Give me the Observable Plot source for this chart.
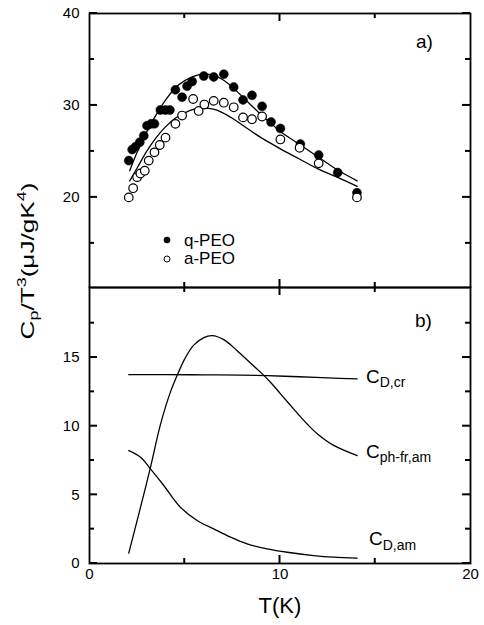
<!DOCTYPE html>
<html><head><meta charset="utf-8">
<script src="https://cdn.jsdelivr.net/npm/d3@7"></script>
<script src="https://cdn.jsdelivr.net/npm/@observablehq/plot@0.6"></script>
<style>
body{margin:0;background:#fff;}
#wrap{position:relative;width:484px;height:625px;font-family:"Liberation Sans",Arial,sans-serif;}
#wrap svg{position:absolute;left:0;overflow:visible;}
</style></head><body><div id="wrap"></div>
<script>
// Panel a) data: Cp/T^3 (µJ/gK^4) vs T (K)
const qT = [2.06,2.24,2.41,2.64,2.85,3.02,3.23,3.41,3.72,3.99,4.22,4.51,4.86,5.12,5.39,6.00,6.52,7.05,7.57,8.06,8.53,9.06,9.53,10.02,11.07,12.03,13.03,14.04];
const qC = [24.0,25.2,25.5,26.0,26.7,27.8,28.0,28.0,29.5,29.5,29.5,31.7,30.9,32.1,32.6,33.2,33.1,33.4,32.0,30.6,31.1,29.9,28.2,27.5,25.8,24.6,22.7,20.5];
const aT = [2.06,2.29,2.50,2.67,2.90,3.11,3.41,3.69,3.99,4.51,4.86,5.44,5.73,6.03,6.52,7.05,7.57,8.06,8.53,9.06,10.02,11.03,12.03,14.04];
const aC = [20.0,21.0,22.2,22.6,22.9,24.0,24.9,25.7,26.5,28.0,28.9,30.7,29.4,30.1,30.5,30.3,29.8,28.7,28.5,28.8,26.3,25.4,23.7,20.0];
const fitT = [2.11,2.5,3.0,3.5,4.0,4.5,5.0,5.5,6.0,6.5,7.0,7.5,8.0,8.5,9.0,9.5,10.0,11.0,12.0,13.0,14.05];
const fitQ = [22.9,24.9,27.1,29.0,30.6,31.9,32.7,33.2,33.4,33.3,32.8,32.0,31.0,30.0,29.0,28.1,27.2,25.8,24.4,23.0,21.8];
const fitA = [21.8,23.2,25.0,26.5,27.7,28.6,29.2,29.6,29.7,29.6,29.2,28.6,27.9,27.2,26.5,25.9,25.3,24.2,23.1,22.2,21.2];
// Panel b) components
const cdcrT = [2.06,4,6,8,9.33,11,12.5,14.05];
const cdcrC = [13.75,13.75,13.74,13.72,13.68,13.6,13.52,13.44];
const cphT = [2.06,2.68,3.2,3.72,4.25,4.57,5.0,5.47,6.0,6.44,7.05,7.75,8.45,9.0,9.5,10.0,10.5,11.0,11.5,12.0,12.82,14.05];
const cphC = [0.75,4.1,7.0,10.1,12.5,13.6,14.9,15.9,16.45,16.6,16.3,15.5,14.6,13.9,13.2,12.4,11.6,10.8,10.05,9.4,8.6,7.86];
const cdamT = [2.06,2.68,3.2,3.9,4.77,5.65,6.52,7.4,8.27,9.33,10.38,11.77,12.82,14.05];
const cdamC = [8.22,7.74,6.89,5.68,4.10,3.13,2.52,1.92,1.43,1.07,0.82,0.58,0.46,0.39];
// ticks
const xMajor = [10], xMinor = [5,15], xLabels = [0,10,20];
const yAMajor = [20,30,40], yAMinor = [15,25,35];
const yBMajor = [0,5,10,15], yBMinor = [2.5,7.5,12.5,17.5];

const font = "Liberation Sans, Arial, sans-serif";
const W = 484, ML = 89, MR = 14;
const pts = (T, C) => T.map((t,i) => ({T: t, C: C[i]}));
const common = {width: W, marginLeft: ML, marginRight: MR,
  style: {fontFamily: font, fontSize: "15px", color: "black", background: "transparent", overflow: "visible"}};
const lineOpts = {x: "T", y: "C", curve: "catmull-rom", stroke: "black", strokeWidth: 1.3};

// Inward ticks as small Plot rect marks: position from the tick arrays, size in pixels via insets
function tickRects(FW, FH, xMaj, xMin, yMaj, yMin) {
  const m = [];
  const hw = 1; // half width of a tick in px
  for (const [t, L] of [[xMaj, 8], [xMin, 5]]) {
    const d = t.map(v => ({v}));
    m.push(Plot.rect(d, {x1: "v", x2: "v", insetLeft: -hw, insetRight: -hw, insetBottom: FH - L, fill: "black"}));
    m.push(Plot.rect(d, {x1: "v", x2: "v", insetLeft: -hw, insetRight: -hw, insetTop: FH - L, fill: "black"}));
  }
  for (const [t, L] of [[yMaj, 8], [yMin, 5]]) {
    const d = t.map(v => ({v}));
    m.push(Plot.rect(d, {y1: "v", y2: "v", insetTop: -hw, insetBottom: -hw, insetRight: FW - L, fill: "black"}));
    m.push(Plot.rect(d, {y1: "v", y2: "v", insetTop: -hw, insetBottom: -hw, insetLeft: FW - L, fill: "black"}));
  }
  return m;
}

const plotA = Plot.plot({
  ...common, height: 287, marginTop: 13, marginBottom: 0,
  x: {domain: [0, 20], axis: null}, y: {domain: [10.2, 40]},
  marks: [
    Plot.axisY(yAMajor, {anchor: "left", tickSize: 0, tickPadding: 10, label: null, fontSize: 15}),
    ...tickRects(381, 274, xMajor, xMinor, yAMajor, yAMinor),
    Plot.line(pts(fitT, fitQ), lineOpts),
    Plot.line(pts(fitT, fitA), lineOpts),
    Plot.dot(pts(qT, qC), {x: "T", y: "C", r: 4.5, fill: "black", stroke: "black", strokeWidth: 0.5}),
    Plot.dot(pts(aT, aC), {x: "T", y: "C", r: 4.3, fill: "white", stroke: "black", strokeWidth: 1.2}),
    Plot.frame({strokeWidth: 1.8, stroke: "black"})
  ]
});

const plotB = Plot.plot({
  ...common, height: 338, marginTop: 0, marginBottom: 62,
  x: {domain: [0, 20]}, y: {domain: [0, 20.1]},
  marks: [
    Plot.axisY(yBMajor, {anchor: "left", tickSize: 0, tickPadding: 10, label: null, fontSize: 15}),
    Plot.axisX(xLabels, {anchor: "bottom", tickSize: 0, tickPadding: 5, label: null, fontSize: 15}),
    ...tickRects(381, 276, xMajor, xMinor, yBMajor, yBMinor),
    Plot.line(pts(cdcrT, cdcrC), lineOpts),
    Plot.line(pts(cphT, cphC), lineOpts),
    Plot.line(pts(cdamT, cdamC), lineOpts),
    Plot.frame({strokeWidth: 1.8, stroke: "black"})
  ]
});

const wrap = document.getElementById("wrap");
plotA.style.top = "0px";
plotB.style.top = "287px";
wrap.appendChild(plotA);
wrap.appendChild(plotB);

// Annotations in panel a
const sa = d3.select(plotA);
const ta = sa.append("g").attr("font-family", font).attr("fill", "black").attr("text-anchor", "start");
ta.append("text").attr("x", 416).attr("y", 48).attr("font-size", 19).text("a)");
ta.append("circle").attr("cx", 167).attr("cy", 240).attr("r", 3.3).attr("fill", "black");
ta.append("text").attr("x", 184).attr("y", 245.5).attr("font-size", 17).text("q-PEO");
ta.append("circle").attr("cx", 167).attr("cy", 259).attr("r", 3).attr("fill", "white").attr("stroke", "black").attr("stroke-width", 1);
ta.append("text").attr("x", 184).attr("y", 264).attr("font-size", 17).text("a-PEO");

// Annotations in panel b (local coordinates, top = 287)
const sb = d3.select(plotB);
const tb = sb.append("g").attr("font-family", font).attr("fill", "black").attr("text-anchor", "start");
tb.append("text").attr("x", 415).attr("y", 40).attr("font-size", 19).text("b)");
function sublabel(g, x, y, main, sub, dy) {
  const t = g.append("text").attr("x", x).attr("y", y).attr("font-size", 19);
  t.append("tspan").text(main);
  t.append("tspan").attr("dy", dy).attr("font-size", 14).text(sub);
}
sublabel(tb, 366, 96, "C", "D,cr", 4);
sublabel(tb, 366, 171, "C", "ph-fr,am", 4);
sublabel(tb, 369, 258, "C", "D,am", 5);
tb.append("text").attr("x", 280).attr("y", 326).attr("text-anchor", "middle").attr("font-size", 22).text("T(K)");

// Y-axis title spanning both panels
const ytl = sa.append("text").attr("font-family", font).attr("font-size", 19).attr("fill", "black")
  .attr("text-anchor", "middle")
  .attr("transform", "translate(34,261) rotate(-90)")
  .attr("textLength", 157).attr("lengthAdjust", "spacingAndGlyphs");
ytl.append("tspan").text("C");
ytl.append("tspan").attr("dy", 4).attr("font-size", 13).text("p");
ytl.append("tspan").attr("dy", -4).text("/T");
ytl.append("tspan").attr("dy", -8).attr("font-size", 13).text("3");
ytl.append("tspan").attr("dy", 8).text("(μJ/gK");
ytl.append("tspan").attr("dy", -8).attr("font-size", 13).text("4");
ytl.append("tspan").attr("dy", 8).text(")");
</script></body></html>
